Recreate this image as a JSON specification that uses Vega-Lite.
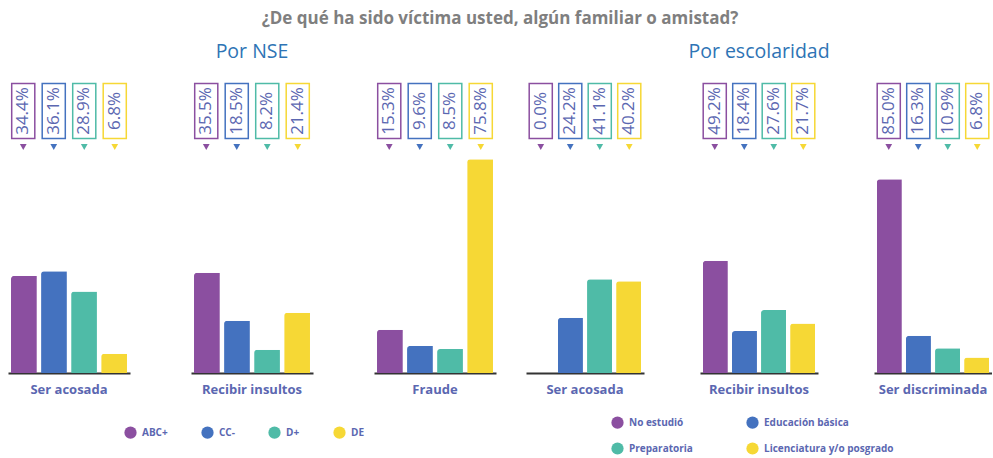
{
  "$schema": "https://vega.github.io/schema/vega-lite/v6.json",
  "background": "white",
  "padding": {"left": 8, "top": 10, "right": 0, "bottom": 0},
  "title": {"text": "¿De qué ha sido víctima usted, algún familiar o amistad?", "fontSize": 17, "font": "Open Sans", "fontWeight": "bold", "color": "#7f7f7f", "anchor": "middle", "offset": 14},
  "config": {"view": {"stroke": null}, "concat": {"spacing": 30}},
  "resolve": {"scale": {"color": "independent", "x": "independent", "y": "independent"}, "legend": {"color": "independent"}},
  "datasets": {
    "d": [
      {"seccion": "NSE", "grupo": "Ser acosada", "serie": "ABC+", "valor": 34.4},
      {"seccion": "NSE", "grupo": "Ser acosada", "serie": "CC-", "valor": 36.1},
      {"seccion": "NSE", "grupo": "Ser acosada", "serie": "D+", "valor": 28.9},
      {"seccion": "NSE", "grupo": "Ser acosada", "serie": "DE", "valor": 6.8},
      {"seccion": "NSE", "grupo": "Recibir insultos", "serie": "ABC+", "valor": 35.5},
      {"seccion": "NSE", "grupo": "Recibir insultos", "serie": "CC-", "valor": 18.5},
      {"seccion": "NSE", "grupo": "Recibir insultos", "serie": "D+", "valor": 8.2},
      {"seccion": "NSE", "grupo": "Recibir insultos", "serie": "DE", "valor": 21.4},
      {"seccion": "NSE", "grupo": "Fraude", "serie": "ABC+", "valor": 15.3},
      {"seccion": "NSE", "grupo": "Fraude", "serie": "CC-", "valor": 9.6},
      {"seccion": "NSE", "grupo": "Fraude", "serie": "D+", "valor": 8.5},
      {"seccion": "NSE", "grupo": "Fraude", "serie": "DE", "valor": 75.8},
      {"seccion": "Escolaridad", "grupo": "Ser acosada", "serie": "No estudió", "valor": 0.0},
      {"seccion": "Escolaridad", "grupo": "Ser acosada", "serie": "Educación básica", "valor": 24.2},
      {"seccion": "Escolaridad", "grupo": "Ser acosada", "serie": "Preparatoria", "valor": 41.1},
      {"seccion": "Escolaridad", "grupo": "Ser acosada", "serie": "Licenciatura y/o posgrado", "valor": 40.2},
      {"seccion": "Escolaridad", "grupo": "Recibir insultos", "serie": "No estudió", "valor": 49.2},
      {"seccion": "Escolaridad", "grupo": "Recibir insultos", "serie": "Educación básica", "valor": 18.4},
      {"seccion": "Escolaridad", "grupo": "Recibir insultos", "serie": "Preparatoria", "valor": 27.6},
      {"seccion": "Escolaridad", "grupo": "Recibir insultos", "serie": "Licenciatura y/o posgrado", "valor": 21.7},
      {"seccion": "Escolaridad", "grupo": "Ser discriminada", "serie": "No estudió", "valor": 85.0},
      {"seccion": "Escolaridad", "grupo": "Ser discriminada", "serie": "Educación básica", "valor": 16.3},
      {"seccion": "Escolaridad", "grupo": "Ser discriminada", "serie": "Preparatoria", "valor": 10.9},
      {"seccion": "Escolaridad", "grupo": "Ser discriminada", "serie": "Licenciatura y/o posgrado", "valor": 6.8}
    ]
  },
  "hconcat": [
    {
      "title": {"text": "Por NSE", "fontSize": 19.5, "font": "Open Sans", "fontWeight": "normal", "color": "#2e74b5", "anchor": "middle", "offset": 18},
      "data": {"name": "d"},
      "transform": [{"filter": "datum.seccion === 'NSE'"}, {"calculate": "format(datum.valor, '.1f') + '%'", "as": "etiqueta"}],
      "spacing": 0,
      "vconcat": [
        {
          "facet": {"column": {"field": "grupo", "sort": ["Ser acosada", "Recibir insultos", "Fraude"], "header": null}},
          "spacing": {"column": 61},
          "spec": {
            "width": 122, "height": 70,
            "encoding": {
              "x": {"field": "serie", "type": "nominal", "sort": ["ABC+", "CC-", "D+", "DE"], "axis": null, "scale": {"paddingInner": 0.14, "paddingOuter": 0.1}},
              "color": {"field": "serie", "type": "nominal", "sort": ["ABC+", "CC-", "D+", "DE"], "scale": {"domain": ["ABC+", "CC-", "D+", "DE"], "range": ["#8b4fa0", "#4472bf", "#4fbba7", "#f6d835"]}, "legend": {"orient": "none", "legendX": 116, "legendY": 345, "direction": "horizontal", "columns": 4, "title": null, "symbolType": "circle", "symbolSize": 150, "symbolStrokeWidth": 0, "symbolOpacity": 1, "labelFont": "Open Sans", "labelFontSize": 10, "labelFontWeight": "bold", "labelColor": "#5b67b1", "columnPadding": 33, "labelOffset": 5}}
            },
            "layer": [
              {"mark": {"type": "point", "shape": "M-0.42,-1L0.42,-1L0.42,1L-0.42,1Z", "size": 3025, "filled": false, "strokeWidth": 1.5, "opacity": 1, "yOffset": -5}},
              {"mark": {"type": "text", "angle": 270, "fontSize": 17, "font": "Open Sans", "align": "center", "baseline": "middle", "yOffset": -5}, "encoding": {"text": {"field": "etiqueta"}, "color": {"value": "#5b67b1"}}},
              {"mark": {"type": "point", "shape": "triangle-down", "size": 45, "filled": true, "opacity": 1, "yOffset": 31}}
            ]
          }
        },
        {
          "facet": {"column": {"field": "grupo", "sort": ["Ser acosada", "Recibir insultos", "Fraude"], "title": null, "header": {"labelOrient": "bottom", "labelFontSize": 13, "labelFont": "Open Sans", "labelFontWeight": "bold", "labelColor": "#5b67b1", "labelPadding": 11}}},
          "spacing": {"column": 61},
          "spec": {
            "width": 122, "height": 222,
            "mark": {"type": "bar", "cornerRadiusTopLeft": 3},
            "encoding": {
              "x": {"field": "serie", "type": "nominal", "sort": ["ABC+", "CC-", "D+", "DE"], "scale": {"paddingInner": 0.14, "paddingOuter": 0.1}, "axis": {"title": null, "labels": false, "ticks": false, "domain": true, "domainColor": "#333333", "domainWidth": 2}},
              "y": {"field": "valor", "type": "quantitative", "scale": {"domain": [0, 78.7]}, "axis": null},
              "color": {"field": "serie", "type": "nominal", "sort": ["ABC+", "CC-", "D+", "DE"], "scale": {"domain": ["ABC+", "CC-", "D+", "DE"], "range": ["#8b4fa0", "#4472bf", "#4fbba7", "#f6d835"]}, "legend": {"orient": "none", "legendX": 116, "legendY": 345, "direction": "horizontal", "columns": 4, "title": null, "symbolType": "circle", "symbolSize": 150, "symbolStrokeWidth": 0, "symbolOpacity": 1, "labelFont": "Open Sans", "labelFontSize": 10, "labelFontWeight": "bold", "labelColor": "#5b67b1", "columnPadding": 33, "labelOffset": 5}}
            }
          }
        }
      ]
    },
    {
      "title": {"text": "Por escolaridad", "fontSize": 19.5, "font": "Open Sans", "fontWeight": "normal", "color": "#2e74b5", "anchor": "middle", "offset": 18},
      "data": {"name": "d"},
      "transform": [{"filter": "datum.seccion === 'Escolaridad'"}, {"calculate": "format(datum.valor, '.1f') + '%'", "as": "etiqueta"}],
      "spacing": 0,
      "vconcat": [
        {
          "facet": {"column": {"field": "grupo", "sort": ["Ser acosada", "Recibir insultos", "Ser discriminada"], "header": null}},
          "spacing": {"column": 56},
          "spec": {
            "width": 118, "height": 70,
            "encoding": {
              "x": {"field": "serie", "type": "nominal", "sort": ["No estudió", "Educación básica", "Preparatoria", "Licenciatura y/o posgrado"], "axis": null, "scale": {"paddingInner": 0.14, "paddingOuter": 0.1}},
              "color": {"field": "serie", "type": "nominal", "sort": ["No estudió", "Educación básica", "Preparatoria", "Licenciatura y/o posgrado"], "scale": {"domain": ["No estudió", "Educación básica", "Preparatoria", "Licenciatura y/o posgrado"], "range": ["#8b4fa0", "#4472bf", "#4fbba7", "#f6d835"]}, "legend": {"orient": "none", "legendX": 85, "legendY": 335, "direction": "horizontal", "columns": 2, "title": null, "symbolType": "circle", "symbolSize": 150, "symbolStrokeWidth": 0, "symbolOpacity": 1, "labelFont": "Open Sans", "labelFontSize": 10, "labelFontWeight": "bold", "labelColor": "#5b67b1", "columnPadding": 53, "rowPadding": 13, "labelOffset": 5, "labelLimit": 200}}
            },
            "layer": [
              {"mark": {"type": "point", "shape": "M-0.42,-1L0.42,-1L0.42,1L-0.42,1Z", "size": 3025, "filled": false, "strokeWidth": 1.5, "opacity": 1, "yOffset": -5}},
              {"mark": {"type": "text", "angle": 270, "fontSize": 17, "font": "Open Sans", "align": "center", "baseline": "middle", "yOffset": -5}, "encoding": {"text": {"field": "etiqueta"}, "color": {"value": "#5b67b1"}}},
              {"mark": {"type": "point", "shape": "triangle-down", "size": 45, "filled": true, "opacity": 1, "yOffset": 31}}
            ]
          }
        },
        {
          "facet": {"column": {"field": "grupo", "sort": ["Ser acosada", "Recibir insultos", "Ser discriminada"], "title": null, "header": {"labelOrient": "bottom", "labelFontSize": 13, "labelFont": "Open Sans", "labelFontWeight": "bold", "labelColor": "#5b67b1", "labelPadding": 11}}},
          "spacing": {"column": 56},
          "spec": {
            "width": 118, "height": 222,
            "mark": {"type": "bar", "cornerRadiusTopLeft": 3},
            "encoding": {
              "x": {"field": "serie", "type": "nominal", "sort": ["No estudió", "Educación básica", "Preparatoria", "Licenciatura y/o posgrado"], "scale": {"paddingInner": 0.14, "paddingOuter": 0.1}, "axis": {"title": null, "labels": false, "ticks": false, "domain": true, "domainColor": "#333333", "domainWidth": 2}},
              "y": {"field": "valor", "type": "quantitative", "scale": {"domain": [0, 97.4]}, "axis": null},
              "color": {"field": "serie", "type": "nominal", "sort": ["No estudió", "Educación básica", "Preparatoria", "Licenciatura y/o posgrado"], "scale": {"domain": ["No estudió", "Educación básica", "Preparatoria", "Licenciatura y/o posgrado"], "range": ["#8b4fa0", "#4472bf", "#4fbba7", "#f6d835"]}, "legend": {"orient": "none", "legendX": 85, "legendY": 335, "direction": "horizontal", "columns": 2, "title": null, "symbolType": "circle", "symbolSize": 150, "symbolStrokeWidth": 0, "symbolOpacity": 1, "labelFont": "Open Sans", "labelFontSize": 10, "labelFontWeight": "bold", "labelColor": "#5b67b1", "columnPadding": 53, "rowPadding": 13, "labelOffset": 5, "labelLimit": 200}}
            }
          }
        }
      ]
    }
  ]
}
